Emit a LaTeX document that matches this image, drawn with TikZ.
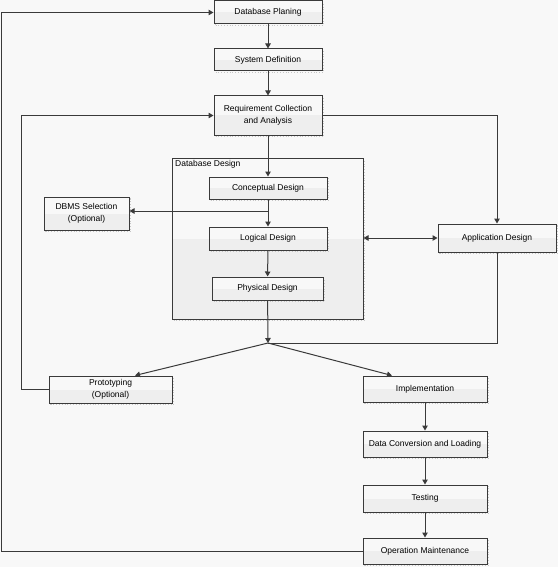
\documentclass[tikz,border=0pt]{standalone}
\usepackage{fontspec}
\setmainfont{Liberation Sans}
\usetikzlibrary{arrows.meta}
\definecolor{bg}{HTML}{F8F8F8}
\definecolor{lo}{HTML}{EEEEEE}
\definecolor{ln}{HTML}{3A3A3A}
\begin{document}
\begin{tikzpicture}[x=1pt,y=-1pt,
  txt/.style={font=\fontsize{8.5}{12}\selectfont},
  box/.style={draw=ln, line width=1pt, fill=bg, inner sep=1pt, align=center, txt,
    path picture={\fill[lo] (path picture bounding box.west) rectangle (path picture bounding box.south east);},
    preaction={draw=gray!45, dotted, line width=0.8pt, transform canvas={shift={(1.5pt,-1.5pt)}}}},
  arr/.style={draw=ln, line width=1pt, -{Triangle[length=5pt,width=5.5pt]}},
  arrtwo/.style={draw=ln, line width=1pt, {Triangle[length=5pt,width=5.5pt]}-{Triangle[length=5pt,width=5.5pt]}},
  con/.style={draw=ln, line width=1pt}]
\useasboundingbox (0,0) rectangle (558,567);
\fill[bg] (0,0) rectangle (558,567);

% container
\node[box, minimum width=191pt, minimum height=161pt] (dbd) at (267.5,238.5) {};
\node[txt, anchor=north west, inner sep=0pt] (dbdlabel) at (175,160.5) {Database Design};

\node[box, minimum width=108pt, minimum height=23pt] (plan) at (268,12.5) {Database Planing};
\node[box, minimum width=108pt, minimum height=22pt] (sysdef) at (268,60) {System Definition};
\node[box, minimum width=108pt, minimum height=39pt] (req) at (268,115.5) {Requirement Collection\\and Analysis};
\node[box, minimum width=118pt, minimum height=22pt] (concept) at (268,188) {Conceptual Design};
\node[box, minimum width=118pt, minimum height=23pt] (logical) at (268,238.5) {Logical Design};
\node[box, minimum width=111pt, minimum height=23pt] (physical) at (267.5,288.5) {Physical Design};
\node[box, minimum width=85pt, minimum height=33pt] (dbms) at (86.5,213.5) {DBMS Selection\\(Optional)};
\node[box, minimum width=118pt, minimum height=28pt] (app) at (497,238) {Application Design};
\node[box, minimum width=123pt, minimum height=27pt] (proto) at (110.5,389.5) {Prototyping\\(Optional)};
\node[box, minimum width=124pt, minimum height=26pt] (impl) at (425,389) {Implementation};
\node[box, minimum width=124pt, minimum height=26pt] (conv) at (425,444) {Data Conversion and Loading};
\node[box, minimum width=124pt, minimum height=27pt] (test) at (425,498.5) {Testing};
\node[box, minimum width=124pt, minimum height=26pt] (ops) at (425,551) {Operation Maintenance};

\coordinate (J) at (268,343);
\coordinate (B) at (268,211);

\draw[arr] (plan) -- (sysdef);
\draw[arr] (sysdef) -- (req);
\draw[arr] (req) -- (concept);
\draw[arr] (req.east) -| (app.north);
\draw[arr] (concept) -- (logical);
\draw[arr] (B) -- (B -| dbms.east);
\draw[arr] (logical) -- (physical);
\draw[arrtwo] (app.west) -- (app.west -| dbd.east);
\draw[arr] (physical) -- (J);
\draw[con] (app.south) |- (J);
\draw[arr] (J) -- ([xshift=24.5pt]proto.north);
\draw[arr] (J) -- ([xshift=-33pt]impl.north);
\draw[arr] (impl) -- (conv);
\draw[arr] (conv) -- (test);
\draw[arr] (test) -- (ops);
\draw[arr] (ops.west) -- ++(-361,0) |- (plan.west);
\draw[arr] (proto.west) -- ++(-27,0) |- (req.west);
\end{tikzpicture}
\end{document}
